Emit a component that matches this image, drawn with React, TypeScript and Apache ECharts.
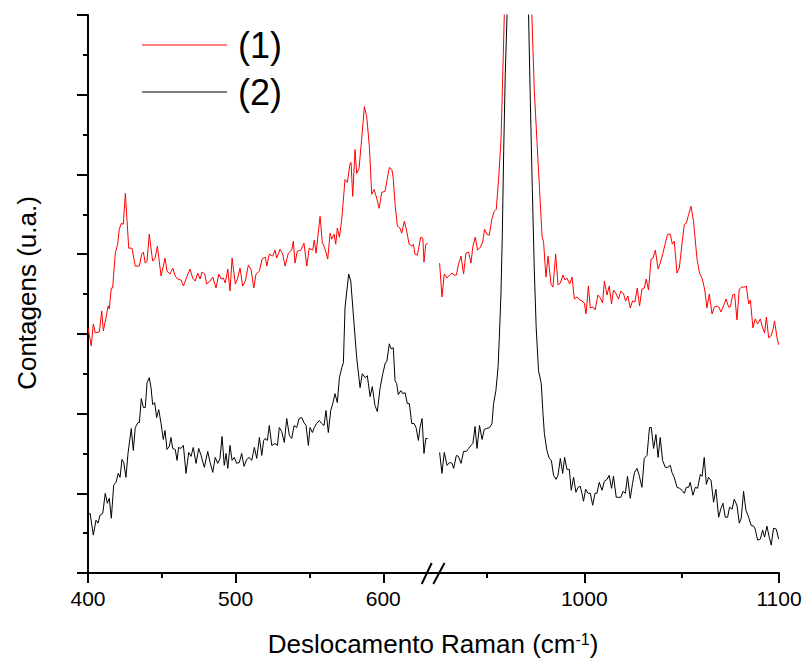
import React, { useEffect, useRef } from "react";
import * as echarts from "echarts";

// Raman spectra, left segment (400–634 cm-1) and right segment (922–1100 cm-1); y in arbitrary units
const redLeft: [number, number][] = [
  [400.0, 246], [402.2, 228], [403.6, 250], [404.9, 241], [407.7, 242], [409.3, 263], [410.4, 243], [412.2, 256],
  [413.6, 268], [414.4, 265], [415.8, 286], [416.7, 286], [418.5, 321], [420.1, 330], [421.2, 345], [422.6, 351],
  [423.9, 350], [425.3, 381], [427.6, 326], [429.8, 326], [432.0, 308], [434.8, 308], [436.4, 320], [437.5, 322],
  [438.8, 311], [440.0, 313], [441.5, 340], [443.8, 313], [445.4, 316], [447.0, 328], [449.5, 298], [452.2, 316],
  [453.5, 303], [455.6, 300], [457.4, 306], [459.1, 298], [460.8, 295], [463.0, 294], [464.6, 288], [466.4, 295],
  [469.1, 305], [470.9, 296], [472.7, 293], [474.3, 301], [475.9, 295], [477.2, 302], [479.1, 300], [480.4, 290],
  [482.7, 293], [484.5, 297], [486.7, 286], [488.6, 300], [490.3, 295], [491.7, 296], [493.0, 291], [494.7, 305],
  [496.2, 283], [497.6, 316], [499.8, 290], [501.4, 296], [503.0, 306], [504.8, 288], [506.6, 293], [508.6, 309],
  [510.4, 305], [512.3, 286], [513.8, 300], [516.1, 303], [517.9, 315], [520.1, 317], [521.1, 308], [522.8, 320],
  [525.1, 318], [526.7, 324], [527.8, 316], [530.1, 325], [531.9, 320], [533.5, 308], [535.7, 321], [538.0, 324],
  [539.1, 333], [540.2, 311], [541.8, 323], [544.1, 324], [546.3, 331], [548.2, 308], [549.9, 326], [552.2, 324],
  [553.3, 334], [554.5, 321], [557.2, 358], [558.7, 332], [560.6, 325], [562.4, 315], [564.0, 341], [565.1, 335],
  [566.7, 340], [567.8, 330], [568.9, 346], [570.3, 337], [571.9, 355], [574.1, 395], [575.7, 392], [577.5, 411],
  [578.2, 412], [579.3, 378], [580.9, 425], [582.0, 401], [583.6, 406], [585.4, 436], [587.2, 468], [588.8, 458],
  [590.6, 428], [592.2, 380], [593.8, 385], [595.6, 376], [597.2, 366], [599.0, 382], [601.2, 383], [604.1, 407],
  [605.8, 405], [606.8, 396], [608.0, 370], [609.6, 348], [611.4, 346], [612.5, 341], [614.3, 353], [615.9, 343],
  [617.5, 330], [619.3, 328], [620.4, 330], [621.5, 320], [623.1, 319], [625.4, 337], [626.8, 336], [627.6, 312],
  [628.8, 330], [630.1, 331]
];

const blackLeft: [number, number][] = [
  [400.0, 58], [401.4, 60], [403.6, 38], [405.4, 53], [406.8, 50], [408.1, 58], [410.0, 60], [411.7, 80],
  [413.1, 70], [414.4, 75], [415.8, 55], [417.4, 88], [419.0, 91], [420.5, 100], [421.7, 96], [423.0, 114],
  [424.2, 111], [425.7, 96], [427.1, 120], [429.3, 145], [430.7, 123], [432.0, 146], [433.9, 151], [434.8, 151],
  [436.1, 175], [437.5, 166], [438.8, 166], [440.0, 191], [441.5, 196], [442.7, 186], [443.8, 169], [445.2, 171],
  [446.5, 156], [447.9, 164], [449.5, 150], [451.0, 134], [452.2, 143], [453.5, 124], [455.1, 127], [456.2, 136],
  [457.4, 125], [459.1, 124], [460.3, 113], [461.4, 126], [463.0, 125], [464.6, 128], [466.4, 100], [468.2, 121],
  [469.8, 117], [471.3, 126], [473.2, 110], [475.0, 125], [476.6, 118], [478.8, 106], [481.1, 122], [482.7, 111],
  [484.5, 101], [486.2, 116], [487.9, 110], [489.4, 115], [490.8, 137], [492.3, 108], [493.5, 120], [494.7, 105],
  [496.2, 128], [497.6, 113], [499.1, 116], [500.7, 110], [502.5, 111], [504.1, 120], [505.7, 107], [507.5, 114],
  [509.3, 116], [510.9, 113], [512.7, 126], [514.3, 115], [516.1, 136], [517.7, 118], [519.0, 133], [519.9, 135],
  [521.5, 133], [522.8, 148], [524.5, 128], [526.7, 130], [528.3, 128], [529.6, 146], [531.2, 142], [533.0, 131],
  [534.6, 155], [536.4, 138], [538.0, 135], [539.6, 148], [541.4, 146], [543.0, 155], [544.8, 156], [546.3, 151],
  [547.7, 148], [549.3, 128], [550.4, 146], [552.0, 141], [553.3, 146], [554.9, 150], [556.7, 153], [558.3, 150],
  [559.9, 148], [561.2, 163], [562.8, 141], [564.4, 163], [565.8, 170], [567.3, 180], [568.9, 171], [570.3, 196],
  [571.9, 206], [573.0, 211], [574.1, 266], [575.3, 283], [576.6, 300], [578.0, 293], [579.7, 260], [582.0, 216],
  [584.3, 186], [585.8, 200], [587.7, 196], [589.2, 198], [591.1, 177], [592.6, 187], [594.4, 168], [596.0, 162],
  [597.8, 185], [599.7, 200], [601.4, 211], [602.4, 212], [604.1, 230], [605.3, 225], [606.8, 226], [608.0, 193],
  [609.1, 190], [610.2, 179], [611.9, 183], [613.2, 180], [614.8, 181], [616.3, 170], [617.7, 170], [619.3, 150],
  [620.9, 150], [622.2, 146], [623.8, 133], [624.9, 146], [626.3, 155], [627.6, 120], [628.8, 135], [630.1, 135]
];

const redRight: [number, number][] = [
  [925.7, 311], [926.9, 277], [928.1, 300], [929.5, 296], [930.8, 299], [932.1, 301], [933.2, 299], [934.3, 299],
  [935.4, 310], [936.7, 318], [938.0, 300], [939.2, 321], [940.6, 322], [941.8, 311], [942.8, 328], [944.0, 337],
  [945.2, 324], [946.6, 327], [947.8, 332], [948.8, 345], [950.0, 340], [951.2, 339], [952.6, 356], [953.8, 363],
  [954.8, 365], [956.0, 396], [957.2, 433], [958.0, 490], [958.9, 558], [961.0, 800], [963.0, 1100], [965.0, 1350],
  [966.5, 1400], [968.5, 1250], [970.5, 950], [972.0, 700], [973.1, 558], [974.3, 486], [975.7, 433], [977.0, 386],
  [978.3, 338], [979.1, 332], [980.3, 297], [981.4, 318], [982.9, 290], [983.9, 287], [985.3, 320], [986.5, 289],
  [987.7, 291], [989.1, 299], [990.1, 294], [991.1, 296], [992.5, 290], [993.7, 297], [994.9, 275], [996.3, 277],
  [997.6, 274], [998.8, 273], [1000.0, 271], [1000.9, 260], [1002.1, 288], [1003.1, 266], [1004.5, 267], [1005.6, 264],
  [1007.0, 279], [1008.2, 276], [1009.4, 271], [1010.3, 293], [1011.7, 279], [1012.8, 288], [1014.0, 270], [1015.0, 284],
  [1016.4, 280], [1017.6, 275], [1018.8, 283], [1020.2, 280], [1021.2, 273], [1022.4, 278], [1023.6, 266], [1024.8, 273],
  [1026.0, 272], [1027.2, 286], [1028.4, 268], [1029.6, 285], [1030.8, 286], [1031.8, 295], [1033.0, 284], [1034.3, 315],
  [1035.3, 316], [1036.5, 324], [1037.9, 305], [1039.0, 311], [1040.4, 321], [1041.6, 331], [1042.8, 340], [1044.2, 340],
  [1045.2, 330], [1046.2, 333], [1047.6, 301], [1048.8, 306], [1050.2, 331], [1051.4, 350], [1052.4, 351], [1053.6, 360],
  [1054.8, 368], [1056.1, 353], [1057.9, 315], [1059.2, 301], [1060.6, 295], [1061.8, 285], [1063.0, 266], [1064.2, 280],
  [1065.6, 260], [1066.8, 267], [1068.2, 268], [1069.0, 267], [1070.2, 262], [1071.5, 268], [1072.8, 275], [1074.1, 267],
  [1075.0, 267], [1076.2, 279], [1077.2, 280], [1078.4, 254], [1079.6, 285], [1081.0, 287], [1082.2, 287], [1083.2, 288],
  [1084.4, 270], [1085.3, 274], [1086.6, 246], [1087.8, 255], [1089.0, 250], [1090.4, 255], [1091.6, 246], [1092.6, 241],
  [1093.5, 257], [1094.7, 236], [1095.9, 238], [1096.9, 244], [1097.7, 253], [1099.0, 236], [1099.8, 229]
];

const blackRight: [number, number][] = [
  [925.7, 121], [926.9, 100], [928.1, 121], [929.5, 108], [930.8, 111], [932.1, 110], [932.9, 105], [934.3, 118],
  [935.4, 117], [936.7, 110], [938.0, 122], [939.4, 122], [940.6, 125], [941.8, 128], [942.8, 130], [943.9, 147],
  [944.9, 125], [946.2, 148], [947.5, 134], [948.6, 144], [949.7, 145], [951.4, 146], [952.6, 150], [953.4, 170],
  [954.6, 183], [955.7, 206], [956.3, 233], [957.2, 280], [957.9, 340], [958.6, 423], [959.4, 500], [960.3, 558],
  [961.5, 800], [963.5, 1200], [965.5, 1500], [967.0, 1550], [969.0, 1300], [970.5, 900], [971.4, 558], [972.3, 473],
  [973.3, 386], [974.3, 306], [975.3, 246], [976.5, 203], [977.9, 190], [978.8, 160], [979.5, 140], [980.8, 123],
  [982.0, 115], [983.1, 113], [984.2, 98], [985.5, 94], [986.5, 98], [987.7, 115], [988.9, 100], [989.9, 116],
  [991.1, 104], [992.3, 104], [993.3, 83], [994.5, 96], [995.7, 81], [996.8, 86], [997.9, 87], [998.8, 80],
  [999.6, 72], [1000.7, 84], [1001.9, 80], [1003.1, 80], [1004.3, 68], [1005.5, 80], [1006.5, 80], [1007.7, 91],
  [1009.1, 83], [1010.3, 92], [1011.7, 94], [1012.8, 98], [1014.0, 85], [1015.0, 97], [1016.4, 76], [1017.6, 76],
  [1018.8, 76], [1019.9, 82], [1021.1, 80], [1022.2, 97], [1023.6, 75], [1024.8, 90], [1025.8, 101], [1027.1, 105],
  [1028.2, 98], [1029.6, 86], [1030.8, 115], [1032.2, 118], [1033.5, 146], [1034.4, 146], [1035.6, 125], [1036.8, 139],
  [1037.9, 116], [1039.0, 136], [1040.2, 113], [1041.6, 106], [1042.8, 106], [1044.2, 108], [1045.0, 101], [1046.2, 96],
  [1047.6, 86], [1048.9, 85], [1050.2, 83], [1051.4, 80], [1052.4, 86], [1053.6, 86], [1054.4, 91], [1055.8, 78],
  [1057.0, 86], [1058.2, 85], [1059.6, 99], [1060.5, 97], [1061.6, 116], [1062.7, 89], [1063.8, 96], [1065.1, 93],
  [1066.4, 71], [1067.6, 84], [1069.0, 56], [1070.2, 65], [1071.2, 70], [1072.4, 56], [1073.6, 56], [1074.6, 66],
  [1075.9, 64], [1077.0, 74], [1078.4, 68], [1079.6, 50], [1080.6, 55], [1081.8, 82], [1083.0, 63], [1084.4, 56],
  [1085.6, 48], [1087.0, 47], [1087.8, 44], [1089.0, 33], [1090.4, 34], [1091.6, 43], [1092.6, 36], [1093.8, 47],
  [1095.0, 36], [1096.0, 28], [1097.2, 45], [1098.6, 44], [1099.8, 34]
];

const seriesNames = ["(1)", "(2)"];
const leftRange = [400, 633.7];
const rightRange = [922.3, 1100];
const leftMajorTicks = [400, 500, 600];
const leftMinorTicks = [450, 550];
const rightMajorTicks = [1000, 1100];
const rightMinorTicks = [950, 1050];
const yRange = [0, 560];
const yInterval = 80;

const FONT = "'Liberation Sans', Arial, Helvetica, sans-serif";

export default function App() {
  const ref = useRef<HTMLDivElement>(null);

  useEffect(() => {
    document.body.style.margin = "0";
    if (!ref.current) return;
    const chart = echarts.init(ref.current, null, { renderer: "svg" });

    const axisLineStyle = { color: "#000", width: 2 };
    const makeMajorX = (grid: number, range: number[], ticks: number[]) => ({
      type: "value",
      gridIndex: grid,
      position: "bottom",
      min: range[0],
      max: range[1],
      axisLine: { show: true, onZero: false, lineStyle: axisLineStyle },
      axisTick: { show: true, customValues: ticks, length: 10, lineStyle: { color: "#000", width: 2 } },
      axisLabel: {
        show: true,
        customValues: ticks,
        formatter: (v: number) => String(Math.round(v)),
        fontSize: 21,
        color: "#000",
        fontFamily: FONT,
        margin: 15,
      },
      splitLine: { show: false },
    });
    const makeMinorX = (grid: number, range: number[], ticks: number[]) => ({
      type: "value",
      gridIndex: grid,
      position: "bottom",
      min: range[0],
      max: range[1],
      axisLine: { show: false, onZero: false },
      axisTick: { show: true, customValues: ticks, length: 5, lineStyle: { color: "#000", width: 2 } },
      axisLabel: { show: false },
      splitLine: { show: false },
    });

    const lineSeries = (name: string, data: [number, number][], idx: number, color: string) => ({
      name,
      type: "line",
      data,
      xAxisIndex: idx,
      yAxisIndex: idx,
      symbol: "none",
      showSymbol: false,
      clip: true,
      lineStyle: { color, width: 1 },
      itemStyle: { color },
      z: 2,
    });

    chart.setOption({
      animation: false,
      backgroundColor: "#fff",
      textStyle: { fontFamily: FONT },
      grid: [
        { left: 88, top: 15, width: 345, height: 558, containLabel: false },
        { left: 433, top: 15, width: 346, height: 558, containLabel: false },
      ],
      xAxis: [
        makeMajorX(0, leftRange, leftMajorTicks),
        makeMajorX(1, rightRange, rightMajorTicks),
        makeMinorX(0, leftRange, leftMinorTicks),
        makeMinorX(1, rightRange, rightMinorTicks),
      ],
      yAxis: [
        {
          type: "value",
          gridIndex: 0,
          min: yRange[0],
          max: yRange[1],
          interval: yInterval,
          axisLine: { show: true, lineStyle: axisLineStyle },
          axisTick: { show: true, length: 11, lineStyle: { color: "#000", width: 2 } },
          minorTick: { show: true, splitNumber: 2, length: 5, lineStyle: { color: "#000", width: 2 } },
          axisLabel: { show: false },
          splitLine: { show: false },
        },
        {
          type: "value",
          gridIndex: 1,
          min: yRange[0],
          max: yRange[1],
          interval: yInterval,
          show: false,
          splitLine: { show: false },
        },
      ],
      legend: {
        data: seriesNames.map((n) => ({ name: n, icon: "rect" })),
        orient: "vertical",
        left: 142,
        top: 27,
        padding: 0,
        itemWidth: 85,
        itemHeight: 1,
        itemGap: 11,
        textStyle: { fontSize: 36, lineHeight: 36, color: "#000", fontFamily: FONT, padding: [0, 0, 0, 6] },
        selectedMode: false,
      },
      series: [
        lineSeries(seriesNames[0], redLeft, 0, "#ff0000"),
        lineSeries(seriesNames[0], redRight, 1, "#ff0000"),
        lineSeries(seriesNames[1], blackLeft, 0, "#000000"),
        lineSeries(seriesNames[1], blackRight, 1, "#000000"),
      ],
      graphic: [
        {
          type: "line",
          shape: { x1: 421.7, y1: 584, x2: 431.7, y2: 563 },
          style: { stroke: "#000", lineWidth: 2 },
          z: 10,
        },
        {
          type: "line",
          shape: { x1: 433.3, y1: 584, x2: 444.5, y2: 563 },
          style: { stroke: "#000", lineWidth: 2 },
          z: 10,
        },
        {
          type: "text",
          x: 27,
          y: 293,
          rotation: Math.PI / 2,
          style: {
            text: "Contagens (u.a.)",
            fontSize: 26,
            fontFamily: FONT,
            fill: "#000",
            align: "center",
            verticalAlign: "middle",
          },
        },
        {
          type: "text",
          x: 433,
          y: 644,
          style: {
            text: "Deslocamento Raman (cm{sup|-1})",
            fontSize: 26,
            fontFamily: FONT,
            fill: "#000",
            align: "center",
            verticalAlign: "middle",
            rich: {
              sup: { fontSize: 16, fontFamily: FONT, fill: "#000", verticalAlign: "top", lineHeight: 16, padding: [0, 0, 8, 0] },
            },
          },
        },
      ],
    });

    return () => {
      chart.dispose();
    };
  }, []);

  return <div ref={ref} style={{ width: 805, height: 661 }} />;
}
